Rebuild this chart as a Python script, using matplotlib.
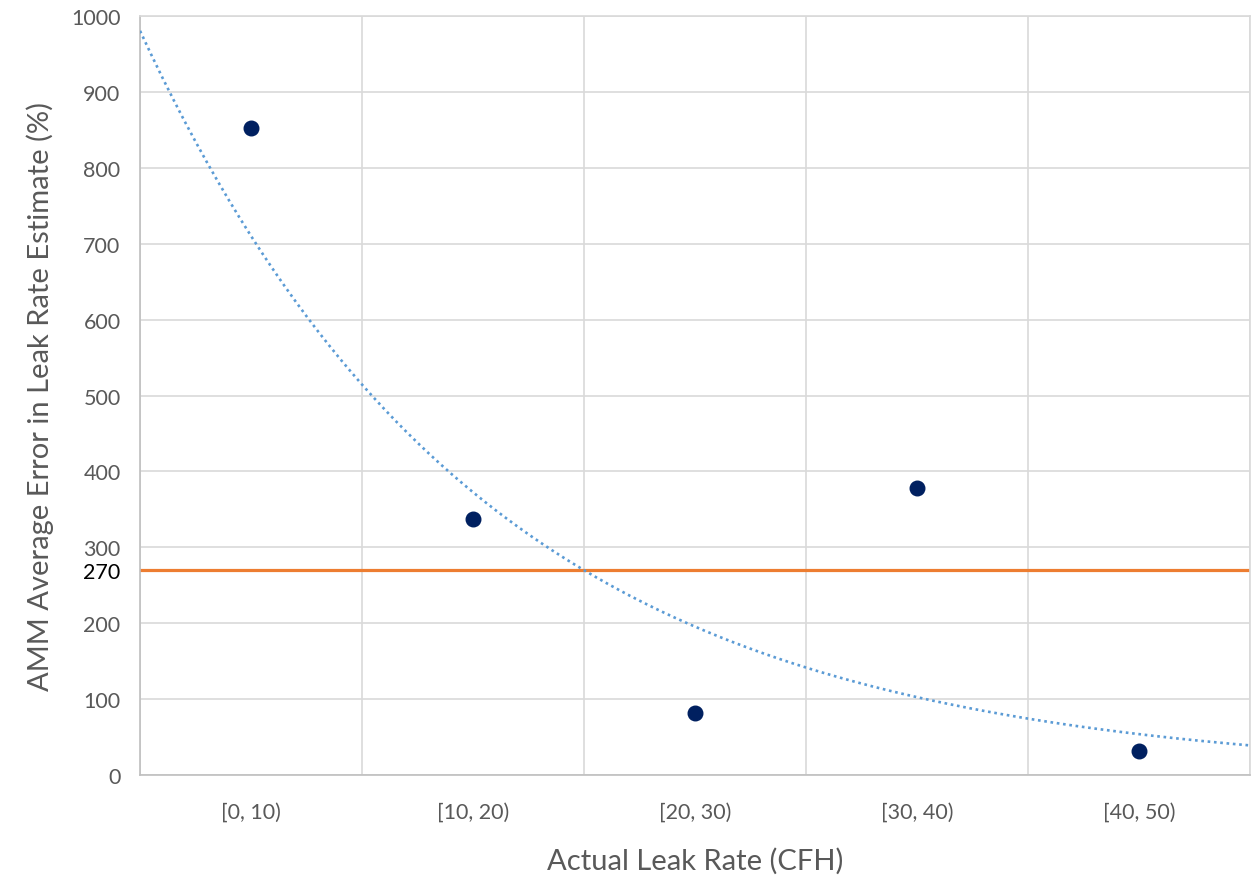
import numpy as np
import matplotlib
matplotlib.use("Agg")
import matplotlib.pyplot as plt

categories = ['[0, 10)', '[10, 20)', '[20, 30)', '[30, 40)', '[40, 50)']
avg_error = [853, 337, 82, 378, 32]
threshold = 270

plt.rcParams['font.family'] = ['Lato', 'DejaVu Sans']

x = np.arange(1, len(categories) + 1)

fig = plt.figure(figsize=(12.55, 8.78), dpi=100)
ax = fig.add_axes([0.1116, 0.1162, 0.996 - 0.1116, 0.9806 - 0.1162])

# exponential trendline (least squares on log values, like Excel)
b, ln_a = np.polyfit(x, np.log(avg_error), 1)
xt = np.linspace(0.5, 5.5, 300)
ax.plot(xt, np.exp(ln_a) * np.exp(b * xt), color='#5B9BD5', lw=1.9,
        linestyle=(0, (1, 1.4)), zorder=3)

ax.axhline(threshold, color='#ED7D31', lw=2.3, zorder=2)
ax.scatter(x, avg_error, s=110, color='#002060', zorder=4)

ax.set_xlim(0.5, 5.5)
ax.set_ylim(0, 1000)
ax.set_xticks(x)
ax.set_xticklabels(categories)
ax.set_xticks(np.arange(0.5, 6, 1), minor=True)
ax.set_yticks(np.arange(0, 1001, 100))
ax.set_yticks([threshold], minor=True)
ax.set_yticklabels([str(threshold)], minor=True)

ax.grid(False)
ax.grid(True, axis='x', which='minor', color='#D9D9D9', lw=1.2)
ax.grid(True, axis='y', which='major', color='#D9D9D9', lw=1.2)
ax.set_axisbelow(True)

ax.tick_params(axis='both', which='both', length=0, labelsize=15.5, labelcolor='#595959')
ax.tick_params(axis='x', which='major', pad=19)
ax.tick_params(axis='y', which='both', pad=14)
ax.tick_params(axis='y', which='minor', labelcolor='black')

for side in ['top', 'right']:
    ax.spines[side].set_color('#D9D9D9')
for side in ['left', 'bottom']:
    ax.spines[side].set_color('#BFBFBF')
for s in ax.spines.values():
    s.set_linewidth(1.2)

ax.set_xlabel('Actual Leak Rate (CFH)', fontsize=21, color='#595959', labelpad=18)
ax.set_ylabel('AMM Average Error in Leak Rate Estimate (%)', fontsize=21,
              color='#595959', labelpad=12)

fig.savefig('out.png', dpi=100)
